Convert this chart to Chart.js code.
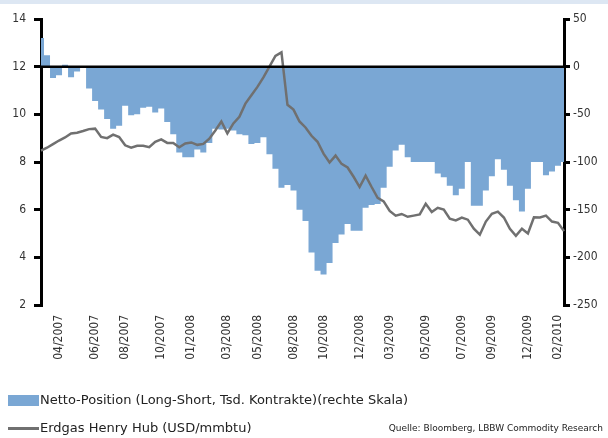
<!DOCTYPE html>
<html>
<head>
<meta charset="utf-8">
<script src="https://cdn.jsdelivr.net/npm/chart.js@4"></script>
<style>
  body { margin: 0; background: #fff; }
  #wrap { position: relative; width: 608px; height: 438px; overflow: hidden; font-family: 'DejaVu Sans', sans-serif; color: #222; }
  #topRule { position: absolute; left: 0; top: 0; width: 608px; height: 4px; background: #dde7f3; }
  .lg { position: absolute; white-space: nowrap; }
</style>
</head>
<body>
<div id="wrap">
  <div id="topRule"></div>
  <canvas id="gasChart" width="608" height="438"></canvas>
  <div class="lg" style="left:8px;top:395px;width:31px;height:11px;background:#7aa7d4"></div>
  <div class="lg" style="left:40px;top:392px;font-size:13px">Netto-Position (Long-Short, Tsd. Kontrakte)(rechte Skala)</div>
  <div class="lg" style="left:8px;top:427px;width:31px;height:3px;background:#707070"></div>
  <div class="lg" style="left:40px;top:420px;font-size:13px">Erdgas Henry Hub (USD/mmbtu)</div>
  <div class="lg" style="right:5px;top:423px;font-size:9px">Quelle: Bloomberg, LBBW Commodity Research</div>
</div>
<script>
// beschriftung der x-achse
const tickLabels = ["04/2007", "06/2007", "08/2007", "10/2007", "01/2008", "03/2008", "05/2008", "08/2008",
  "10/2008", "12/2008", "03/2009", "05/2009", "07/2009", "09/2009", "12/2009", "02/2010"];
const tickIndex = [3, 9, 14, 20, 25, 31, 36, 42, 47, 53, 58, 64, 70, 75, 81, 86];

// netto-position, tsd. kontrakte (rechte skala)
const netPosition = [
  30, 12, -12, -9, 2, -11, -5, 0, -23, -36,
  -45, -55, -65, -62, -41, -51, -50, -43, -42, -48,
  -44, -58, -71, -90, -95, -95, -87, -90, -80, -65,
  -66, -65, -67, -71, -72, -81, -80, -74, -92, -107,
  -127, -124, -130, -150, -162, -195, -214, -218, -206, -185,
  -176, -165, -172, -172, -148, -145, -144, -127, -105, -88,
  -82, -95, -100, -100, -100, -100, -112, -116, -125, -135,
  -128, -100, -146, -146, -130, -115, -97, -108, -125, -140,
  -152, -128, -100, -100, -114, -110, -104, -100
];

// erdgas henry hub, usd/mmbtu (linke skala)
const henryHub = [
  8.48, 8.6, 8.75, 8.9, 9.03, 9.2, 9.23, 9.3, 9.38, 9.4,
  9.05, 9.0, 9.15, 9.05, 8.7, 8.6, 8.68, 8.68, 8.62, 8.85,
  8.95, 8.8, 8.8, 8.62, 8.78, 8.82, 8.72, 8.76, 8.98, 9.32,
  9.7, 9.2, 9.62, 9.9, 10.45, 10.8, 11.15, 11.55, 12.0, 12.45,
  12.6, 10.4, 10.2, 9.7, 9.45, 9.1, 8.85, 8.35, 7.98, 8.27,
  7.92, 7.77, 7.38, 6.95, 7.43, 6.95, 6.5, 6.35, 5.95, 5.75,
  5.82, 5.7, 5.75, 5.8, 6.25, 5.9, 6.08, 6.0, 5.62, 5.55,
  5.67, 5.58, 5.2, 4.95, 5.5, 5.83, 5.92, 5.67, 5.2, 4.9,
  5.2, 5.0, 5.68, 5.67, 5.75, 5.5, 5.45, 5.1
];

const labels = netPosition.map((_, i) => {
  const k = tickIndex.indexOf(i);
  return k >= 0 ? tickLabels[k] : "";
});

const fontFamily = "'DejaVu Sans Condensed', 'Liberation Sans Narrow', 'DejaVu Sans', sans-serif";

// schwarze null-linie über der fläche
const zeroLine = {
  id: "zeroLine",
  afterDatasetsDraw(chart) {
    const { ctx, chartArea, scales } = chart;
    const y = scales.y1.getPixelForValue(0);
    ctx.save();
    ctx.strokeStyle = "#000";
    ctx.lineWidth = 2.5;
    ctx.beginPath();
    ctx.moveTo(chartArea.left, y);
    ctx.lineTo(chartArea.right, y);
    ctx.stroke();
    ctx.restore();
  },
};

new Chart(gasChart, {
  type: "line",
  data: {
    labels,
    datasets: [
      {
        label: "Erdgas Henry Hub (USD/mmbtu)",
        data: henryHub,
        yAxisID: "y",
        borderColor: "#707070",
        borderWidth: 2.5,
        pointRadius: 0,
        tension: 0,
        order: 0,
      },
      {
        label: "Netto-Position (Long-Short, Tsd. Kontrakte)(rechte Skala)",
        data: netPosition,
        yAxisID: "y1",
        borderWidth: 0,
        borderColor: "#7aa7d4",
        backgroundColor: "#7aa7d4",
        fill: "origin",
        stepped: "middle",
        pointRadius: 0,
        order: 1,
      },
    ],
  },
  options: {
    responsive: false,
    animation: false,
    layout: { padding: { top: 19, left: 0, right: 0, bottom: 0 } },
    plugins: { legend: { display: false }, tooltip: { enabled: false } },
    scales: {
      x: {
        offset: false,
        grid: { display: false, drawTicks: false },
        border: { display: false },
        ticks: {
          autoSkip: false,
          maxRotation: 90,
          minRotation: 90,
          padding: 10,
          color: "#333",
          font: { family: fontFamily, size: 12 },
        },
        afterFit(scale) {
          scale.height = 133;
        },
      },
      y: {
        position: "left",
        min: 2,
        max: 14,
        ticks: { stepSize: 2, padding: 8, color: "#333", font: { family: fontFamily, size: 12 } },
        grid: { drawOnChartArea: false, tickLength: 7, color: "#000", lineWidth: 3 },
        border: { color: "#000", width: 3 },
        afterFit(scale) {
          scale.width = 41;
        },
      },
      y1: {
        position: "right",
        min: -250,
        max: 50,
        ticks: { stepSize: 50, padding: 3, color: "#333", font: { family: fontFamily, size: 12 } },
        grid: { drawOnChartArea: false, tickLength: 6, color: "#000", lineWidth: 3 },
        border: { color: "#000", width: 3 },
        afterFit(scale) {
          scale.width = 44;
        },
      },
    },
  },
  plugins: [zeroLine],
});
</script>
</body>
</html>
